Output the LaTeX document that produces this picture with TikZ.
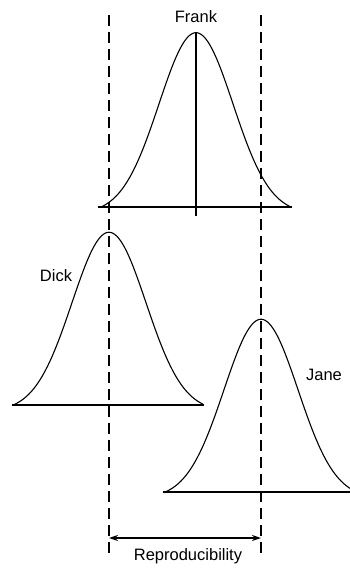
\documentclass[tikz,border=0pt]{standalone}
\usepackage{fontspec}
\setmainfont{Liberation Sans}
\usetikzlibrary{arrows.meta}
\begin{document}
\begin{tikzpicture}[x=1pt,y=-1pt,
  curve/.style={line width=1.1pt,line join=round},
  base/.style={line width=1.2pt},
  guide/.style={line width=1.6pt,dash pattern=on 11pt off 6pt},
  lbl/.style={font=\fontsize{16.5}{18}\selectfont,inner sep=0pt}]
\useasboundingbox (0,0) rectangle (350,568);
% Frank
\draw[curve] plot[domain=-95:95,samples=100,smooth] ({196+\x},{207-181*(exp(-(\x*\x)/(2*37*37))-0.037)});
\draw[base] (98,207) -- (292,207);
\draw[line width=2pt] (196,33) -- (196,216);
\node[lbl] (frank) at (196,17) {Frank};
% Dick
\draw[curve] plot[domain=-96:94,samples=100,smooth] ({109+\x},{405-179*(exp(-(\x*\x)/(2*37*37))-0.035)});
\draw[base] (12,405) -- (204,405);
\node[lbl] (dick) at (56,276) {Dick};
% Jane
\draw[curve] plot[domain=-97:89,samples=100,smooth] ({261+\x},{492-179*(exp(-(\x*\x)/(2*37*37))-0.035)});
\draw[base] (163,492) -- (350,492);
\node[lbl] (jane) at (324,375) {Jane};
% guides
\coordinate (lt) at (109,15);
\coordinate (lb) at (109,556);
\coordinate (rt) at (261,15);
\coordinate (rb) at (261,556);
\draw[guide] (lt) -- (lb);
\draw[guide] (rt) -- (rb);
\coordinate (al) at (109,538);
\coordinate (ar) at (261,538);
\draw[line width=1.4pt,{Stealth[length=9pt,width=6pt]}-{Stealth[length=9pt,width=6pt]}] (al) -- (ar);
\node[lbl] (rep) at (188,556) {Reproducibility};
\end{tikzpicture}
\end{document}
